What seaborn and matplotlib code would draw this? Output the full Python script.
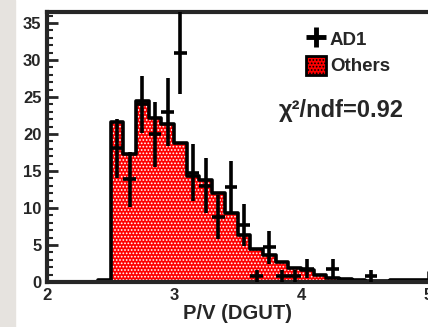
import numpy as np
import pandas as pd
import matplotlib
matplotlib.use("Agg")
import matplotlib.pyplot as plt
import seaborn as sns
from matplotlib.lines import Line2D
from matplotlib.patches import Patch, Rectangle
from matplotlib.ticker import MultipleLocator

# ------------------- Data -------------------
# left edge of each 0.1-wide P/V bin
bin_lo = [2.4, 2.5, 2.6, 2.7, 2.8, 2.9, 3.0, 3.1, 3.2, 3.3, 3.4, 3.5, 3.6,
          3.7, 3.8, 3.9, 4.0, 4.1, 4.2, 4.3, 4.4, 4.5, 4.6, 4.7, 4.8, 4.9]
others = [0.3, 21.6, 17.3, 24.5, 22.2, 21.3, 18.8, 14.3, 13.8, 12.0, 9.3, 6.3, 4.5,
          3.7, 2.7, 1.9, 1.6, 1.0, 0.6, 0.4, 0.3, 0.2, 0.15, 0.25, 0.25, 0.25]
ad1 = [np.nan, 18.1, 13.9, 24.0, 20.0, 23.0, 31.0, 14.8, 13.0, 8.8, 12.8, 7.7, 0.8,
       4.7, 0.8, 0.8, 1.8, np.nan, 1.8, np.nan, np.nan, 0.8, np.nan, np.nan, np.nan, np.nan]
ad1_err = [np.nan, 4.0, 3.7, 3.8, 4.4, 4.6, 5.6, 3.9, 3.7, 3.0, 3.6, 2.8, 0.8,
           2.2, 0.8, 0.8, 1.3, np.nan, 1.3, np.nan, np.nan, 0.8, np.nan, np.nan, np.nan, np.nan]
bin_width = 0.1
chi2_text = "χ²/ndf=0.92"

df = pd.DataFrame({"lo": bin_lo, "others": others, "ad1": ad1, "err": ad1_err})
df["center"] = df["lo"] + bin_width / 2
edges = list(df["lo"]) + [bin_lo[-1] + bin_width]

# ------------------- Style -------------------
sns.set_style("ticks")
plt.rcParams["font.family"] = ["Liberation Sans", "DejaVu Sans"]
plt.rcParams["font.weight"] = "bold"
plt.rcParams["hatch.color"] = "white"
plt.rcParams["hatch.linewidth"] = 0.8

fig = plt.figure(figsize=(4.28, 3.27), dpi=100)
fig.patch.set_facecolor("white")
fig.patches.append(Rectangle((0, 0), 15 / 428, 1, transform=fig.transFigure,
                             color="#e6e3df", zorder=-1))
ax = fig.add_axes([47 / 428, 45 / 327, 381 / 428, 270 / 327])

# ------------------- Others: filled, dotted histogram -------------------
sns.histplot(data=df, x="center", weights="others", bins=edges, element="step",
             fill=True, color="#ff0000", alpha=1, linewidth=0, ax=ax)
fill = ax.collections[-1]
fill.set_facecolor("#ff0000")
fill.set_edgecolor("white")
fill.set_linewidth(0)
fill.set_hatch(".....")

sns.histplot(data=df, x="center", weights="others", bins=edges, element="step",
             fill=False, color="black", linewidth=2.6, ax=ax)

# ------------------- AD1: crosses -------------------
pts = df.dropna(subset=["ad1"])
ax.errorbar(pts["center"], pts["ad1"], xerr=bin_width / 2, yerr=pts["err"],
            fmt="none", ecolor="black", elinewidth=2.6, capsize=0, zorder=5)

# ------------------- Axes -------------------
ax.set_xlim(2, 5)
ax.set_ylim(0, 36.5)
ax.set_xticks([2, 3, 4, 5])
ax.set_yticks([0, 5, 10, 15, 20, 25, 30, 35])
ax.yaxis.set_minor_locator(MultipleLocator(1))
ax.tick_params(which="major", direction="in", length=8, width=2, labelsize=12, pad=4)
ax.tick_params(which="minor", axis="y", direction="in", length=4, width=1.5)
ax.set_xlabel("P/V (DGUT)", fontsize=14.5, fontweight="bold", labelpad=1)
ax.set_ylabel("")
for side in ["top", "left", "bottom"]:
    ax.spines[side].set_linewidth(3)
ax.spines["right"].set_visible(False)

handles = [Line2D([], [], marker="+", linestyle="none", color="black",
                  markersize=14, markeredgewidth=3.5),
           Patch(facecolor="#ff0000", edgecolor="black", linewidth=2, hatch=".....")]
leg = ax.legend(handles, ["AD1", "Others"], loc="upper left",
                bbox_to_anchor=(0.68, 0.937), frameon=False, fontsize=13.5,
                handlelength=1.07, handleheight=1.17, handletextpad=0.2,
                labelspacing=0.37, borderpad=0, borderaxespad=0)

ax.text(0.609, 0.635, chi2_text, transform=ax.transAxes, fontsize=17,
        fontweight="bold", va="center", ha="left")

plt.savefig("out.png", dpi=100)
plt.close()
